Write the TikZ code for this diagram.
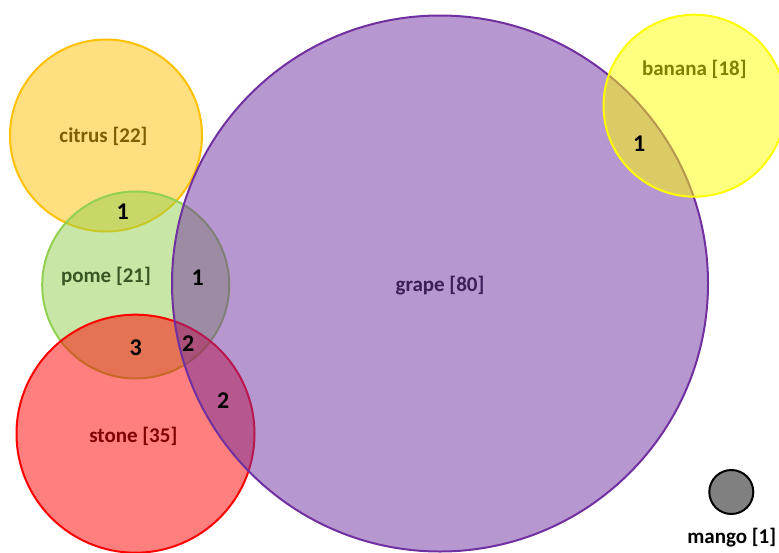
\documentclass[tikz,border=0pt]{standalone}
\usepackage{fontspec}
\setmainfont{Carlito}
\definecolor{cOrange}{RGB}{255,192,0}
\definecolor{cGreen}{RGB}{146,208,80}
\definecolor{cRed}{RGB}{255,0,0}
\definecolor{cPurple}{RGB}{112,48,160}
\definecolor{cYellow}{RGB}{255,255,0}
\definecolor{tOrange}{RGB}{127,96,0}
\definecolor{tGreen}{RGB}{56,87,35}
\definecolor{tRed}{RGB}{128,0,0}
\definecolor{tPurple}{RGB}{60,30,90}
\definecolor{tYellow}{RGB}{127,127,0}
\begin{document}
\begin{tikzpicture}[x=1pt,y=-1pt,
  setc/.style={circle, inner sep=0pt, line width=2pt, fill opacity=0.5, draw opacity=1},
  lab/.style={inner sep=0pt, font=\bfseries\fontsize{21}{21}\selectfont},
  num/.style={inner sep=0pt, text=black, font=\bfseries\fontsize{24}{24}\selectfont}]
\useasboundingbox (0,0) rectangle (779,552);
\begin{scope}
\clip (0,0) rectangle (779,552);
\node[setc, draw=cOrange, fill=cOrange, minimum size=192pt] (citrus) at (106,135.5) {};
\node[setc, draw=cGreen, fill=cGreen, minimum size=187pt] (pome) at (135.7,285) {};
\node[setc, draw=cRed, fill=cRed, minimum size=238pt] (stone) at (135.5,433.7) {};
\node[setc, draw=cPurple, fill=cPurple, minimum size=536pt] (grape) at (440,283.5) {};
\node[setc, draw=cYellow, fill=cYellow, minimum size=182pt] (banana) at (694.5,105.7) {};
\node[circle, inner sep=0pt, line width=2pt, draw=black, fill={rgb,255:red,128;green,128;blue,128}, minimum size=44pt] (mango) at (731.3,492) {};
\end{scope}
\node[lab, text=tOrange] (lcitrus) at (103.5,136.5) {citrus [22]};
\node[lab, text=tGreen] (lpome) at (106,276.5) {pome [21]};
\node[lab, text=tRed] (lstone) at (133.3,436.5) {stone [35]};
\node[lab, text=tPurple] (lgrape) at (440,286) {grape [80]};
\node[lab, text=tYellow] (lbanana) at (694.3,69.3) {banana [18]};
\node[lab, text=black] (lmango) at (731.7,537.5) {mango [1]};
\node[num] (n1) at (122.7,211.7) {1};
\node[num] (n2) at (197.7,277.7) {1};
\node[num] (n3) at (135.7,347.7) {3};
\node[num] (n4) at (188.3,343.3) {2};
\node[num] (n5) at (223.3,400.7) {2};
\node[num] (n6) at (639.3,143.3) {1};
\end{tikzpicture}
\end{document}
